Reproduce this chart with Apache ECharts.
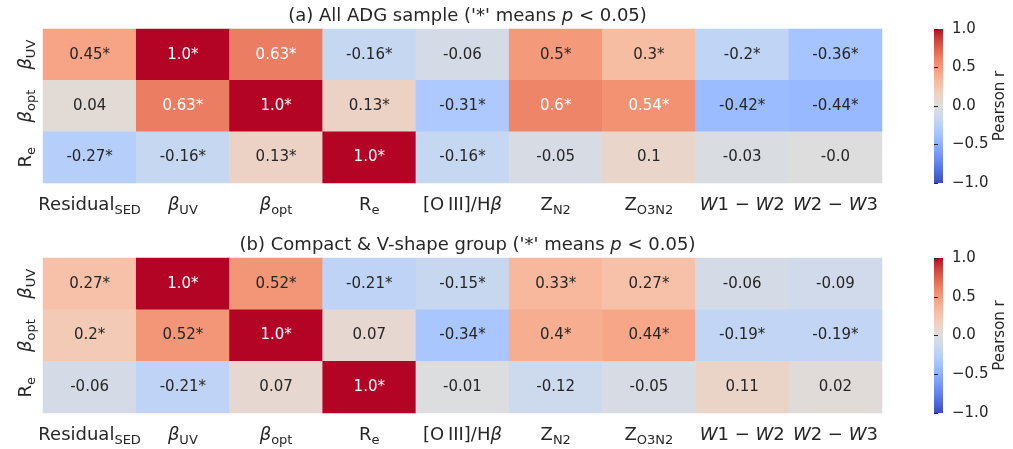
<!DOCTYPE html>
<html>
<head>
<meta charset="utf-8">
<script src="https://cdn.jsdelivr.net/npm/echarts@6/dist/echarts.min.js"></script>
<style>html,body{margin:0;padding:0;background:#fff}#c{width:1013px;height:449px}</style>
</head>
<body>
<div id="c"></div>
<script>
// ---- data ----
var colKeys = ['Residual_SED', 'beta_UV', 'beta_opt', 'R_e', 'OIII_Hb', 'Z_N2', 'Z_O3N2', 'W1-W2', 'W2-W3'];
var rowKeys = ['beta_UV', 'beta_opt', 'R_e'];
var titleA = "(a) All ADG sample ('*' means ";
var titleB = "(b) Compact & V-shape group ('*' means ";
var cbarTicks = [-1, -0.5, 0, 0.5, 1];

var valuesA = [
  [0.45, 1.0, 0.63, -0.16, -0.06, 0.5, 0.3, -0.2, -0.36],
  [0.04, 0.63, 1.0, 0.13, -0.31, 0.6, 0.54, -0.42, -0.44],
  [-0.27, -0.16, 0.13, 1.0, -0.16, -0.05, 0.1, -0.03, -0.0]
];
var sigA = [
  [1, 1, 1, 1, 0, 1, 1, 1, 1],
  [0, 1, 1, 1, 1, 1, 1, 1, 1],
  [1, 1, 1, 1, 1, 0, 0, 0, 0]
];
var valuesB = [
  [0.27, 1.0, 0.52, -0.21, -0.15, 0.33, 0.27, -0.06, -0.09],
  [0.2, 0.52, 1.0, 0.07, -0.34, 0.4, 0.44, -0.19, -0.19],
  [-0.06, -0.21, 0.07, 1.0, -0.01, -0.12, -0.05, 0.11, 0.02]
];
var sigB = [
  [1, 1, 1, 1, 1, 1, 1, 0, 0],
  [1, 1, 1, 0, 1, 1, 1, 1, 1],
  [0, 1, 0, 1, 0, 0, 0, 0, 0]
];

// coolwarm (Moreland) colormap stops
var coolwarm = [
  [59,76,192],[68,90,204],[77,104,215],[87,117,225],[98,130,234],[108,142,241],[119,154,247],[130,165,251],
  [141,176,254],[152,185,255],[163,194,255],[174,201,253],[184,208,249],[194,213,244],[204,217,238],[213,219,230],
  [221,221,221],[229,216,209],[236,211,197],[241,204,184],[245,196,172],[247,187,160],[247,177,148],[247,166,135],
  [244,154,123],[241,141,111],[236,127,99],[229,112,88],[222,96,77],[213,80,66],[203,62,56],[192,40,47],[180,4,38]
];
var cwHex = coolwarm.map(function (c) { return 'rgb(' + c.join(',') + ')'; });

function cmap(v) {
  var t = (v + 1) / 2; t = Math.max(0, Math.min(1, t));
  var p = t * (coolwarm.length - 1), i = Math.floor(p), f = p - i;
  if (i >= coolwarm.length - 1) { i = coolwarm.length - 2; f = 1; }
  var a = coolwarm[i], b = coolwarm[i + 1];
  return [0, 1, 2].map(function (k) { return a[k] + (b[k] - a[k]) * f; });
}
function lum(rgb) {
  var l = rgb.map(function (c) { c /= 255; return c <= 0.03928 ? c / 12.92 : Math.pow((c + 0.055) / 1.055, 2.4); });
  return 0.2126 * l[0] + 0.7152 * l[1] + 0.0722 * l[2];
}
function fmt(v) {
  if (Number.isInteger(v)) return (Object.is(v, -0) || v < 0 ? '-' : '') + Math.abs(v).toFixed(1);
  return String(v);
}

var TXT = '#262626';
var FONT = 'DejaVu Sans';

var labelMap = {
  'Residual_SED': '{m|Residual}{s|SED}',
  'beta_UV': '{i|β}{s|UV}',
  'beta_opt': '{i|β}{s|opt}',
  'R_e': '{m|R}{s|e}',
  'OIII_Hb': '{m|[O\u2009III]/H}{i|β}',
  'Z_N2': '{m|Z}{s|N2}',
  'Z_O3N2': '{m|Z}{s|O3N2}',
  'W1-W2': '{i|W}{m|1 \u2212 }{i|W}{m|2}',
  'W2-W3': '{i|W}{m|2 \u2212 }{i|W}{m|3}'
};
var rich = {
  m: { fontSize: 18, fontFamily: FONT, color: TXT, lineHeight: 24, verticalAlign: 'middle' },
  i: { fontSize: 18, fontFamily: FONT, fontStyle: 'italic', color: TXT, lineHeight: 24, verticalAlign: 'middle' },
  s: { fontSize: 13, fontFamily: FONT, color: TXT, lineHeight: 16, verticalAlign: 'bottom' }
};

function buildData(vals, sig) {
  var out = [];
  for (var r = 0; r < vals.length; r++) {
    for (var c = 0; c < vals[r].length; c++) {
      var v = vals[r][c];
      var col = lum(cmap(v)) < 0.408 ? '#ffffff' : TXT;
      out.push({ value: [c, r, v], label: { color: col, formatter: fmt(v) + (sig[r][c] ? '*' : '') } });
    }
  }
  return out;
}

var CB = [{ left: 934, top: 29, height: 154 }, { left: 934, top: 258, height: 155 }];
var grids = [
  { left: 43, right: 131, top: 29, height: 154 },
  { left: 43, right: 131, top: 258, height: 155 },
  { left: CB[0].left, width: 9, top: CB[0].top, height: CB[0].height },
  { left: CB[1].left, width: 9, top: CB[1].top, height: CB[1].height }
];

function heatX(gi) {
  return {
    type: 'category', gridIndex: gi, data: colKeys,
    axisLine: { show: false }, axisTick: { show: false }, splitLine: { show: false },
    axisLabel: { margin: 10, interval: 0, formatter: function (k) { return labelMap[k]; }, rich: rich }
  };
}
function heatY(gi) {
  return {
    type: 'category', gridIndex: gi, data: rowKeys, inverse: true,
    axisLine: { show: false }, axisTick: { show: false }, splitLine: { show: false },
    axisLabel: { margin: 5, rotate: 90, interval: 0, formatter: function (k) { return labelMap[k]; }, rich: rich }
  };
}
function cbY(gi) {
  return {
    type: 'value', gridIndex: gi, min: -1, max: 1, interval: 0.5, position: 'right',
    axisLine: { show: false }, splitLine: { show: false },
    axisTick: { show: true, length: 4, lineStyle: { color: TXT, width: 1 } },
    axisLabel: { margin: 9, fontSize: 15, fontFamily: FONT, color: TXT,
      formatter: function (v) { return (v < 0 ? '\u2212' : '') + Math.abs(v).toFixed(1); } },
    name: 'Pearson r', nameLocation: 'middle', nameRotate: 90, nameGap: 50,
    nameTextStyle: { fontSize: 15, fontFamily: FONT, color: TXT }
  };
}
function cbX(gi) { return { type: 'value', gridIndex: gi, show: false, min: 0, max: 1 }; }

function heatSeries(idx, data) {
  return {
    type: 'heatmap', xAxisIndex: idx, yAxisIndex: idx, data: data,
    label: { show: true, fontSize: 15, fontFamily: FONT },
    emphasis: { disabled: true }, itemStyle: { borderWidth: 0 }, animation: false
  };
}

var titleRich = {
  n: { fontSize: 18, fontFamily: FONT, color: TXT, fontWeight: 'normal' },
  i: { fontSize: 18, fontFamily: FONT, color: TXT, fontStyle: 'italic', fontWeight: 'normal' }
};

function gradStops() {
  return cwHex.map(function (c, k) { return { offset: 1 - k / (cwHex.length - 1), color: c }; }).reverse();
}

var option = {
  animation: false,
  title: [
    { text: '{n|' + titleA + '}{i|p}{n| < 0.05)}', left: 462.5, top: 2, textAlign: 'center', textStyle: { fontWeight: 'normal', rich: titleRich } },
    { text: '{n|' + titleB + '}{i|p}{n| < 0.05)}', left: 462.5, top: 231, textAlign: 'center', textStyle: { fontWeight: 'normal', rich: titleRich } }
  ],
  grid: grids,
  xAxis: [heatX(0), heatX(1), cbX(2), cbX(3)],
  yAxis: [heatY(0), heatY(1), cbY(2), cbY(3)],
  visualMap: [
    { type: 'continuous', show: false, seriesIndex: 0, dimension: 2, min: -1, max: 1, inRange: { color: cwHex } },
    { type: 'continuous', show: false, seriesIndex: 1, dimension: 2, min: -1, max: 1, inRange: { color: cwHex } }
  ],
  graphic: CB.map(function (b) {
    return {
      type: 'rect', left: b.left, top: b.top, z: 0,
      shape: { width: 9, height: b.height },
      style: { fill: new echarts.graphic.LinearGradient(0, 0, 0, 1, gradStops()) }
    };
  }),
  series: [
    heatSeries(0, buildData(valuesA, sigA)),
    heatSeries(1, buildData(valuesB, sigB)),
    { type: 'line', xAxisIndex: 2, yAxisIndex: 2, data: [] },
    { type: 'line', xAxisIndex: 3, yAxisIndex: 3, data: [] }
  ]
};

var chart = echarts.init(document.getElementById('c'), null, { renderer: 'canvas' });
chart.setOption(option);
</script>
</body>
</html>
